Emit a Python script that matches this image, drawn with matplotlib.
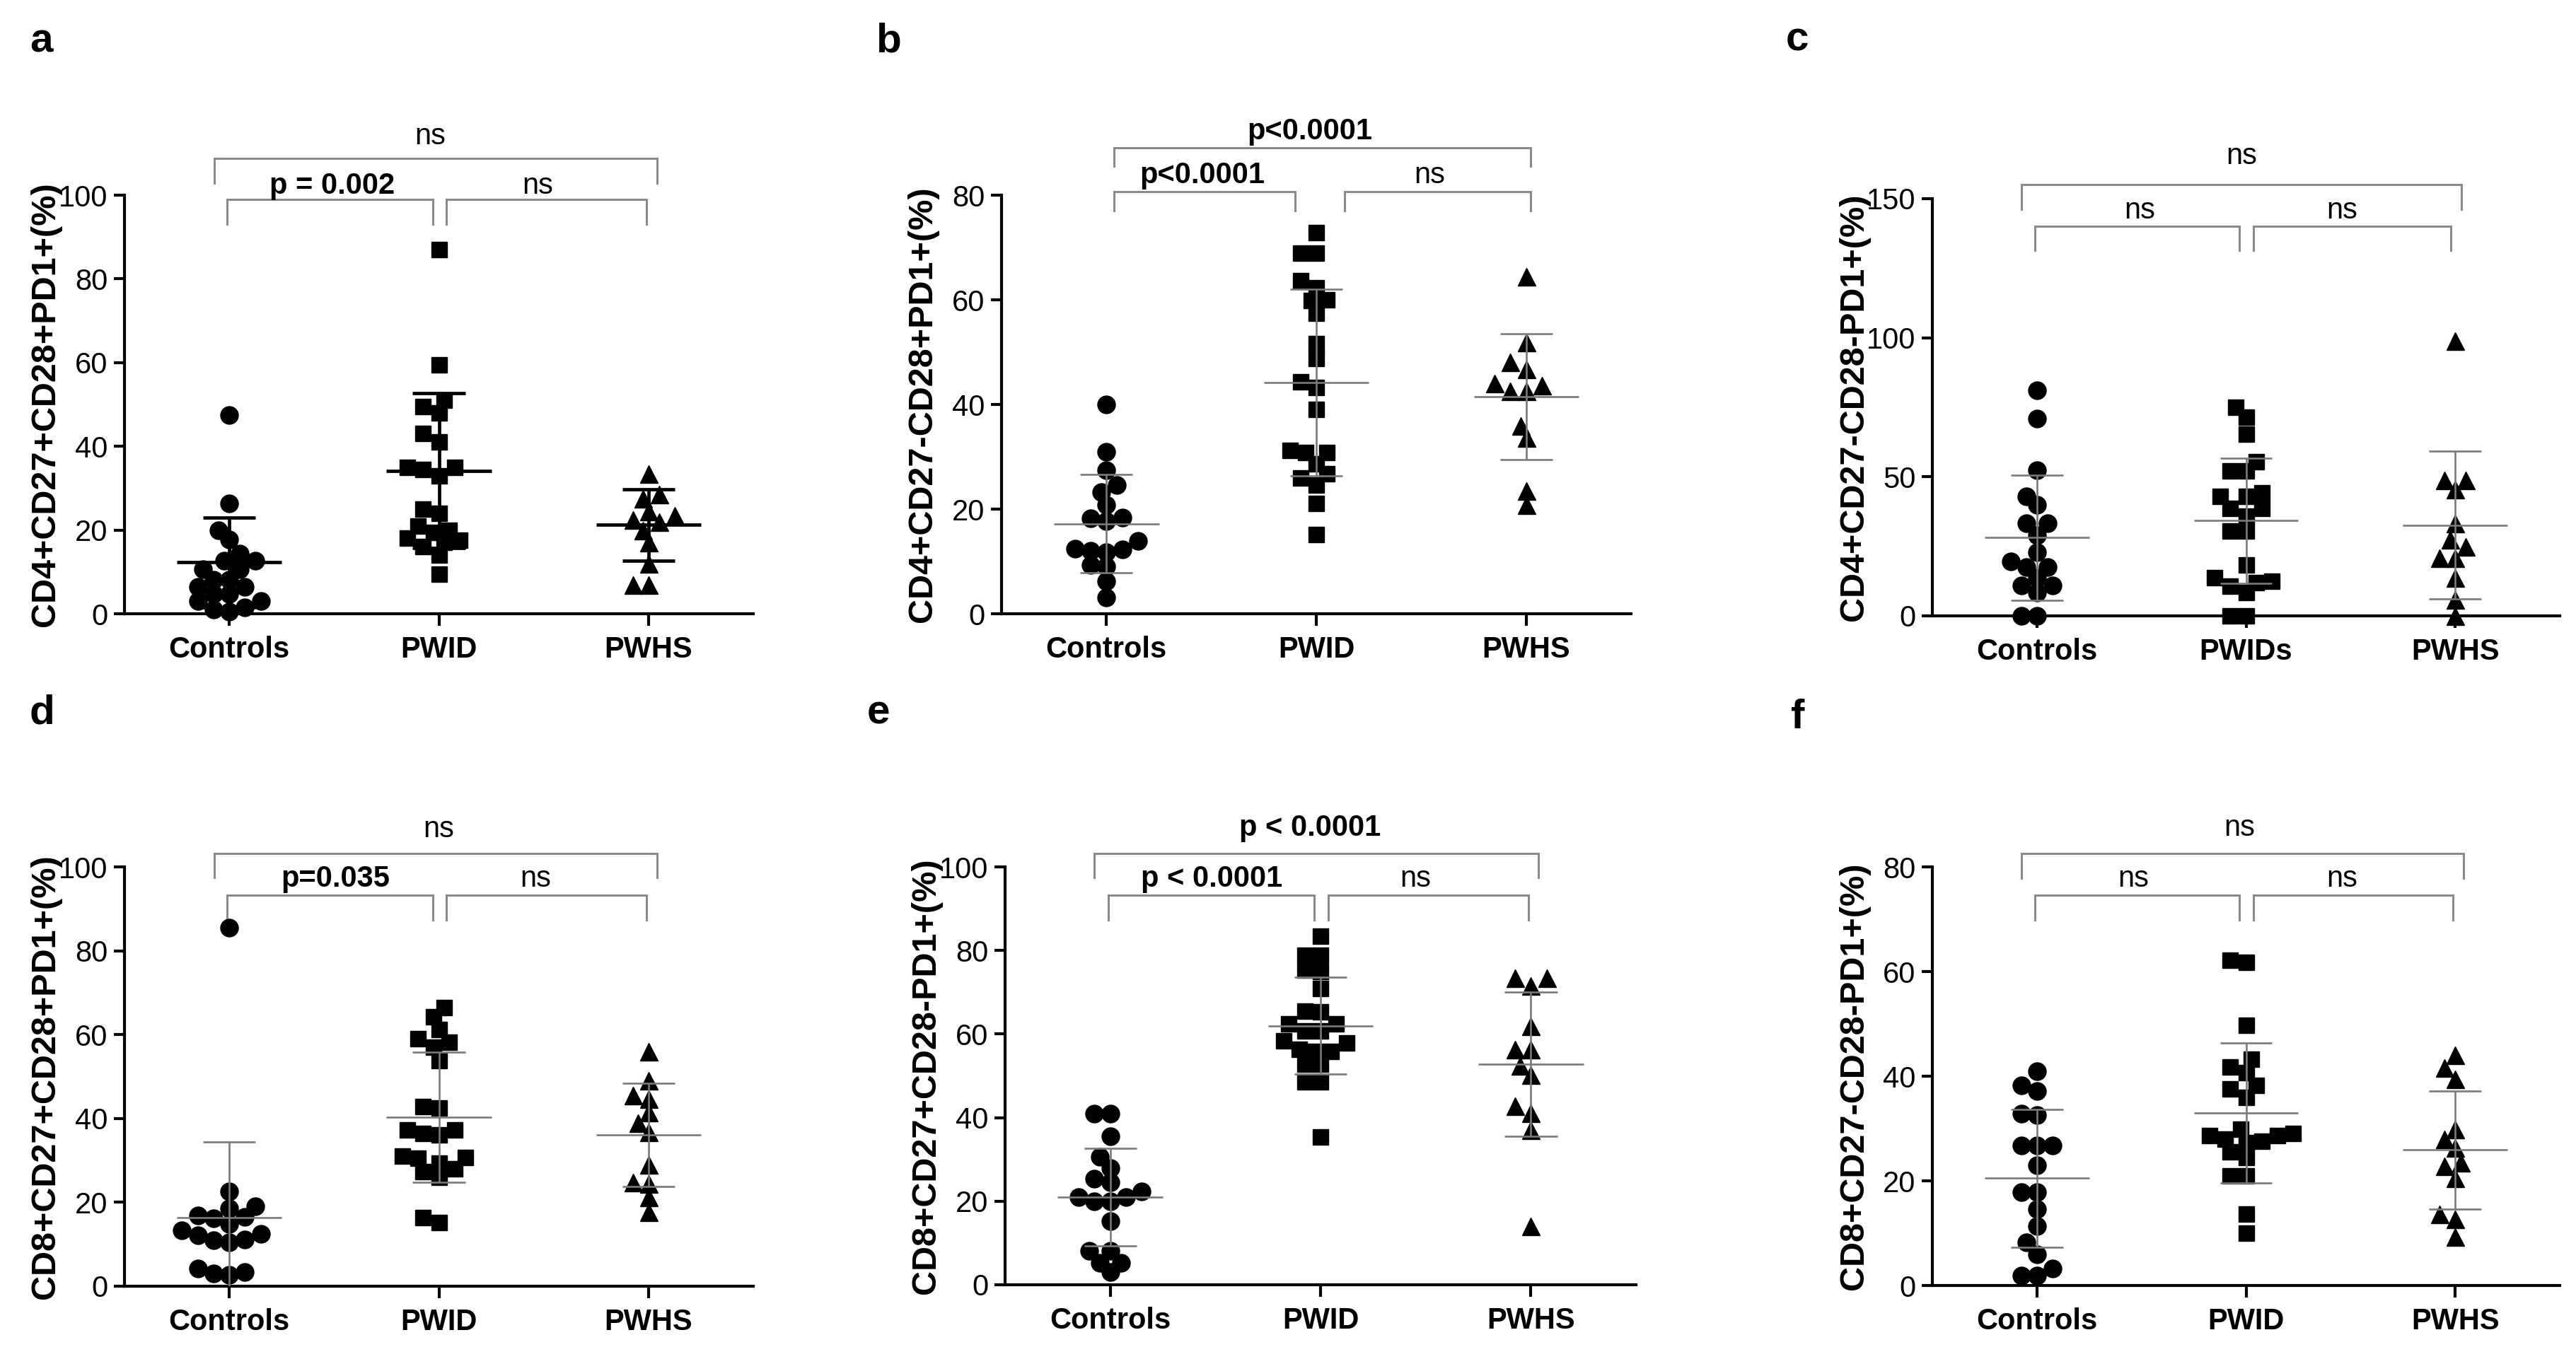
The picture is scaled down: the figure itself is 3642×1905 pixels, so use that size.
import numpy as np
import matplotlib
matplotlib.use("Agg")
import matplotlib.pyplot as plt

plt.rcParams['font.family'] = ['Liberation Sans', 'DejaVu Sans']

# ---------------- data ----------------
groups = ['Controls', 'PWID', 'PWHS']
groups_c = ['Controls', 'PWIDs', 'PWHS']

# a: CD4+CD27+CD28+PD1+
a_controls = [47.5, 26.4, 19.9, 17.7, 14.3, 12.6, 12.6, 10.6, 10.6, 8.1, 8.1, 6.5, 6.4, 4.7, 4.7, 3.0, 3.0, 1.5, 1.0, 0.5]
a_pwid = [87, 59.5, 51, 49.5, 48, 43, 41, 35, 35, 34.5, 33, 25, 24, 21, 20, 19.5, 18, 17.5, 17, 16, 14, 9.5]
a_pwhs = [33.5, 28.5, 27.5, 24.5, 23.5, 22.5, 22, 20, 17, 12, 7, 7]
a_mean = [12.3, 34.2, 21.2]
a_sd = [10.7, 18.5, 8.6]

# b: CD4+CD27-CD28+PD1+
b_controls = [40, 31, 27.4, 24.6, 23.2, 20.8, 18.4, 17.7, 18.2, 13.9, 12.5, 12.3, 11.8, 12.0, 9.3, 9.0, 6.2, 3.1]
b_pwid = [72.9, 68.9, 68.9, 63.6, 62.3, 59.9, 60.0, 57.5, 51.6, 48.8, 44.3, 43.3, 39.1, 30.8, 30.8, 31.2, 28.7, 26.7, 26.0, 24.6, 21.1, 15.2]
b_pwhs = [64.4, 51.9, 48.1, 46.7, 44.0, 43.6, 42.6, 42.6, 36.0, 33.6, 23.5, 20.8]
b_mean = [17.2, 44.2, 41.5]
b_sd = [9.4, 17.8, 12.0]

# c: CD4+CD27-CD28-PD1+
c_controls = [81.1, 71.0, 52.4, 43.0, 39.8, 33.2, 33.2, 28.9, 22.8, 19.6, 17.6, 17.6, 13.7, 11.0, 11.0, 8.5, 0, 0]
c_pwid = [75, 71.4, 65.4, 55.4, 52.2, 52.2, 43, 43, 44.3, 38.7, 38.7, 35.9, 30.6, 30.6, 18.3, 13.7, 12.4, 10.8, 12, 8.5, 0, 0]
c_pwhs = [99, 48.9, 48.9, 45.6, 33.2, 27.4, 24.8, 20.9, 20.9, 13.7, 5.9, 0]
c_mean = [28.2, 34.2, 32.6]
c_sd = [22.5, 22.5, 26.6]

# d: CD8+CD27+CD28+PD1+
d_controls = [85.5, 22.6, 19.0, 18.6, 16.8, 16.2, 16.5, 14.9, 13.3, 12.4, 12.2, 11.1, 11.0, 10.5, 3.3, 2.7, 3.0, 4.2]
d_pwid = [66.5, 64.3, 61.2, 59.0, 58.2, 57.0, 53.8, 42.9, 42.5, 37.3, 37.3, 36.1, 36.5, 30.7, 30.5, 31.0, 29.4, 28.0, 27.3, 26.0, 16.4, 15.1]
d_pwhs = [56, 49, 45.6, 44.7, 41.4, 39, 36.8, 29, 24.8, 24.5, 21.2, 17.7]
d_mean = [16.4, 40.3, 36.1]
d_sd = [18.0, 15.5, 12.3]

# e: CD8+CD27+CD28-PD1+
e_controls = [41, 41, 35.6, 30.6, 28, 25.3, 24.5, 22.3, 21, 19.9, 19.9, 21, 15.3, 8.1, 8.1, 5.2, 5.2, 3.1]
e_pwid = [83.4, 78.8, 78.8, 75.3, 75.0, 70.9, 65.5, 65.3, 62.4, 62.4, 60.7, 60.7, 58.3, 57.8, 56.3, 55.8, 55.8, 52.8, 52.8, 48.5, 48.5, 35.4]
e_pwhs = [73.4, 73.4, 71.6, 62, 56.3, 56.3, 52.4, 50.2, 42.8, 41.2, 37.1, 14]
e_mean = [21.0, 62.0, 52.8]
e_sd = [11.7, 11.6, 17.3]

# f: CD8+CD27-CD28-PD1+
f_controls = [40.9, 38.3, 37.1, 32.6, 32.9, 26.8, 26.8, 26.8, 23, 17.9, 17.9, 14.6, 11.3, 8.2, 5.9, 3.3, 1.9, 1.9]
f_pwid = [62.2, 61.8, 49.7, 43.2, 41.8, 40.7, 37.6, 38.3, 36.0, 29.8, 28.7, 28.7, 29.0, 28.0, 27.3, 27.6, 25.6, 24.5, 21.0, 21.0, 13.7, 10.0]
f_pwhs = [44, 41.6, 39.5, 29.8, 28, 26.3, 23.5, 22.8, 20.5, 13.7, 12.7, 9.3]
f_mean = [20.5, 33.0, 25.9]
f_sd = [13.2, 13.4, 11.3]

ylabels = ['CD4+CD27+CD28+PD1+(%)', 'CD4+CD27-CD28+PD1+(%)', 'CD4+CD27-CD28-PD1+(%)',
           'CD8+CD27+CD28+PD1+(%)', 'CD8+CD27+CD28-PD1+(%)', 'CD8+CD27-CD28-PD1+(%)']
panel_letters = ['a', 'b', 'c', 'd', 'e', 'f']
yticks_list = [[0, 20, 40, 60, 80, 100], [0, 20, 40, 60, 80], [0, 50, 100, 150],
               [0, 20, 40, 60, 80, 100], [0, 20, 40, 60, 80, 100], [0, 20, 40, 60, 80]]
stat_texts = [
    ['p = 0.002', 'ns', 'ns'],
    ['p<0.0001', 'ns', 'p<0.0001'],
    ['ns', 'ns', 'ns'],
    ['p=0.035', 'ns', 'ns'],
    ['p < 0.0001', 'ns', 'p < 0.0001'],
    ['ns', 'ns', 'ns'],
]

panels_data = [
    (groups, [a_controls, a_pwid, a_pwhs], a_mean, a_sd),
    (groups, [b_controls, b_pwid, b_pwhs], b_mean, b_sd),
    (groups_c, [c_controls, c_pwid, c_pwhs], c_mean, c_sd),
    (groups, [d_controls, d_pwid, d_pwhs], d_mean, d_sd),
    (groups, [e_controls, e_pwid, e_pwhs], e_mean, e_sd),
    (groups, [f_controls, f_pwid, f_pwhs], f_mean, f_sd),
]

# ---------------- layout ----------------
W, H = 3642, 1905
fig = plt.figure(figsize=(W / 100, H / 100), dpi=100)
fig.patch.set_facecolor('white')

axes_px = [(176, 276, 1065, 868), (1416, 276, 2306, 868), (2732, 281, 3619, 871),
           (176, 1226, 1065, 1819), (1421, 1226, 2313, 1817), (2732, 1226, 3619, 1818)]
letter_px = [(42, 73), (1238, 73), (2525, 71), (42, 1023), (1226, 1023), (2532, 1030)]

# bracket geometry: (x0, x1, y_line, y_leg_end) for inner-left, inner-right, outer
brackets = [
    [(-0.01, 0.97, 99.0, 93.0), (1.036, 1.99, 99.0, 93.0), (-0.07, 2.04, 108.8, 102.8)],
    [(0.036, 0.90, 80.7, 77.0), (1.136, 2.02, 80.7, 77.0), (0.036, 2.02, 89.0, 85.5)],
    [(-0.01, 0.967, 140.2, 131.4), (1.036, 1.98, 140.2, 131.4), (-0.074, 2.03, 155.2, 146.3)],
    [(-0.01, 0.97, 93.3, 87.4), (1.036, 1.99, 93.3, 87.4), (-0.07, 2.04, 103.2, 97.4)],
    [(-0.01, 0.97, 93.3, 87.3), (1.036, 1.99, 93.3, 87.3), (-0.076, 2.036, 103.2, 97.4)],
    [(-0.01, 0.967, 74.6, 69.9), (1.037, 1.99, 74.6, 69.9), (-0.074, 2.04, 82.6, 77.9)],
]
text_pos = [
    [(0.49, 100.4), (1.47, 100.4), (0.96, 112.1)],
    [(0.457, 82.3), (1.54, 82.3), (0.97, 90.7)],
    [(0.49, 142.8), (1.46, 142.8), (0.98, 162.4)],
    [(0.505, 95.2), (1.46, 95.2), (1.0, 107.0)],
    [(0.483, 95.2), (1.45, 95.2), (0.95, 107.4)],
    [(0.46, 76.2), (1.46, 76.2), (0.97, 85.9)],
]

markers = ['o', 's', '^']
msizes = [18, 16, 18]


def swarm(values, ymax, xpx_per_unit=296.0, axpx=592.0, dmin=19.0, step=0.025):
    """Simple beeswarm: place each point at the offset nearest the centre
    that keeps it at least dmin pixels from the points already placed."""
    v = np.sort(np.asarray(values, dtype=float))
    ypx = v * axpx / ymax
    placed_x, placed_y = [], []
    cands = [0.0]
    for k in range(1, 80):
        cands += [-k * step, k * step]
    for yy in ypx:
        for c in cands:
            cx = c * xpx_per_unit
            ok = True
            for px, py in zip(placed_x, placed_y):
                if (cx - px) ** 2 + (yy - py) ** 2 < dmin ** 2:
                    ok = False
                    break
            if ok:
                placed_x.append(cx)
                placed_y.append(yy)
                break
    return np.array(placed_x) / xpx_per_unit, v


for pi in range(6):
    L, T, R, B = axes_px[pi]
    ax = fig.add_axes([L / W, 1 - B / H, (R - L) / W, (B - T) / H])
    cats, series, means, sds = panels_data[pi]
    yt = yticks_list[pi]
    ymax = yt[-1]
    ax.set_xlim(-0.5, 2.5)
    ax.set_ylim(0, ymax)

    if pi == 0:
        ecol, elw = 'black', 3.4
    else:
        ecol, elw = '#7a7a7a', 1.9

    for gi in range(3):
        dx, yv = swarm(series[gi], ymax)
        ax.plot(gi + dx, yv, linestyle='none', marker=markers[gi], ms=msizes[gi],
                color='black', mec='black', clip_on=False, zorder=3)
        m, s = means[gi], sds[gi]
        lo = max(m - s, 0.0)
        hi = m + s
        ax.plot([gi, gi], [lo, hi], color=ecol, lw=elw, zorder=4, solid_capstyle='butt')
        ax.plot([gi - 0.25, gi + 0.25], [m, m], color=ecol, lw=elw, zorder=4, solid_capstyle='butt')
        ax.plot([gi - 0.125, gi + 0.125], [hi, hi], color=ecol, lw=elw, zorder=4, solid_capstyle='butt')
        if m - s > 0:
            ax.plot([gi - 0.125, gi + 0.125], [lo, lo], color=ecol, lw=elw, zorder=4, solid_capstyle='butt')

    for sp in ['top', 'right']:
        ax.spines[sp].set_visible(False)
    for sp in ['left', 'bottom']:
        ax.spines[sp].set_linewidth(3.0)
    ax.set_xticks(range(3))
    ax.set_xticklabels(cats, fontsize=30, fontweight='bold')
    ax.set_yticks(yt)
    ax.set_yticklabels([str(t) for t in yt], fontsize=30)
    ax.tick_params(axis='x', direction='out', length=12, width=3, pad=10)
    ax.tick_params(axis='y', direction='out', length=11, width=3, pad=6)
    ax.set_ylabel(ylabels[pi], fontsize=35, fontweight='bold', va='center')
    ax.yaxis.set_label_coords(-0.125, 0.5)

    bcol = '#8a8a8a'
    for bi, (x0, x1, yl, ye) in enumerate(brackets[pi]):
        ax.plot([x0, x0, x1, x1], [ye, yl, yl, ye], color=bcol, lw=2.2,
                clip_on=False, zorder=2, solid_joinstyle='miter')
        txt = stat_texts[pi][bi]
        tx, ty = text_pos[pi][bi]
        ax.text(tx, ty, txt, ha='center', va='baseline', fontsize=30,
                fontweight=('bold' if txt.startswith('p') else 'normal'),
                clip_on=False)

    lx, ly = letter_px[pi]
    fig.text(lx / W, 1 - ly / H, panel_letters[pi], fontsize=42, fontweight='bold',
             ha='left', va='baseline')

fig.savefig('out.png', dpi=100, facecolor='white')
